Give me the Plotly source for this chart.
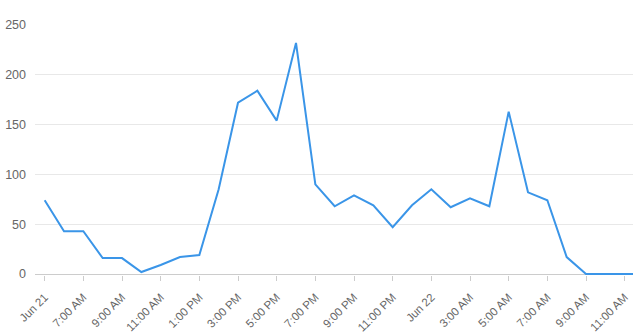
import plotly.graph_objects as go

# Data
point_index = list(range(33))
values = [74, 43, 43, 16, 16, 2, 9, 17, 19, 85, 172, 184, 154, 232, 90, 68,
          79, 69, 47, 69, 85, 67, 76, 68, 163, 82, 74, 17, 0, 0, 0, 0, 0]
tick_positions = list(range(0, 33, 2))
tick_labels = ["Jun 21", "7:00 AM", "9:00 AM", "11:00 AM", "1:00 PM", "3:00 PM",
               "5:00 PM", "7:00 PM", "9:00 PM", "11:00 PM", "Jun 22", "3:00 AM",
               "5:00 AM", "7:00 AM", "9:00 AM", "11:00 AM", "1:00 PM"]
y_ticks = [0, 50, 100, 150, 200, 250]

W, H = 633, 336
left, top, bottom = 34.5, 24.5, 60.5
step = 19.35
x_max = (W - left) / step - 0.5

fig = go.Figure()
fig.add_trace(go.Scatter(
    x=point_index, y=values, mode="lines",
    line=dict(color="#3a95e8", width=2),
    hoverinfo="skip",
))

family = "Liberation Sans, Arial, sans-serif"
x_font = dict(family=family, size=11.5, color="#666666")
y_font = dict(family=family, size=12.5, color="#666666")
fig.update_layout(
    width=W, height=H,
    margin=dict(l=left, r=0, t=top, b=bottom, pad=0),
    paper_bgcolor="white", plot_bgcolor="white",
    showlegend=False,
    font=y_font,
    xaxis=dict(
        range=[-0.5, x_max],
        tickmode="array", tickvals=tick_positions, ticktext=tick_labels,
        tickangle=-45, ticks="outside", ticklen=5, tickcolor="#cccccc",
        showline=False, showgrid=False, zeroline=False,
        tickfont=x_font, ticklabelstandoff=5, automargin=False,
    ),
    yaxis=dict(
        range=[-1, 250],
        tickmode="array", tickvals=y_ticks,
        showgrid=True, gridcolor="#e8e8e8", gridwidth=1,
        zeroline=True, zerolinecolor="#cccccc", zerolinewidth=1,
        showline=False, ticks="",
        ticklabelstandoff=8, tickfont=y_font, automargin=False,
    ),
)

fig.write_html("out.html")
